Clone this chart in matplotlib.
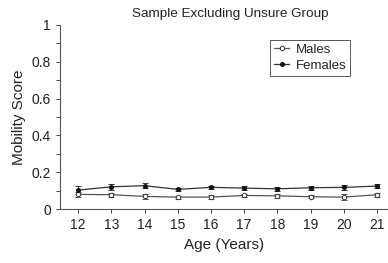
import numpy as np
import matplotlib.pyplot as plt

plt.rcParams['font.family'] = ['Liberation Sans', 'DejaVu Sans']
plt.rcParams['text.color'] = '#222222'
plt.rcParams['axes.labelcolor'] = '#222222'
plt.rcParams['xtick.labelcolor'] = '#222222'
plt.rcParams['ytick.labelcolor'] = '#222222'

# data
ages = [12, 13, 14, 15, 16, 17, 18, 19, 20, 21]
males = [0.080, 0.078, 0.069, 0.065, 0.065, 0.074, 0.072, 0.067, 0.065, 0.078]
males_err = [0.015, 0.010, 0.015, 0.008, 0.010, 0.008, 0.010, 0.008, 0.018, 0.010]
females = [0.103, 0.121, 0.127, 0.107, 0.118, 0.114, 0.110, 0.116, 0.118, 0.125]
females_err = [0.020, 0.015, 0.015, 0.010, 0.010, 0.010, 0.010, 0.010, 0.012, 0.010]

fig = plt.figure(figsize=(3.88, 2.63), dpi=100)
ax = fig.add_axes([0.155, 0.205, 0.845, 0.70])

m_line = ax.errorbar(ages, males, yerr=males_err, color='#555555', lw=0.9, marker='o',
                     ms=3.2, mfc='white', mec='#333333', mew=0.7, capsize=2,
                     elinewidth=0.7, capthick=0.7)
f_line = ax.errorbar(ages, females, yerr=females_err, color='#333333', lw=0.9, marker='o',
                     ms=2.6, mfc='#111111', mec='#111111', capsize=2,
                     elinewidth=0.7, capthick=0.7)

ax.set_xlim(11.46, 21.33)
ax.set_ylim(0, 1)
ax.set_xticks(ages)
ax.set_yticks([0, 0.2, 0.4, 0.6, 0.8, 1])
ax.set_yticklabels(['0', '0.2', '0.4', '0.6', '0.8', '1'])
ax.set_yticks(np.arange(0.1, 1.0, 0.2), minor=True)
ax.tick_params(labelsize=10, length=3, width=0.7, color='#444444')
ax.tick_params(which='minor', length=3, width=0.7, color='#444444')

for s in ['top', 'right']:
    ax.spines[s].set_visible(False)
for s in ['left', 'bottom']:
    ax.spines[s].set_color('#555555')
    ax.spines[s].set_linewidth(0.8)

ax.set_title('Sample Excluding Unsure Group', fontsize=9.7, pad=6, x=0.52)
ax.set_ylabel('Mobility Score', fontsize=11)
ax.set_xlabel('Age (Years)', fontsize=11)

# legend shows just line + marker, no error bars
leg = ax.legend([m_line.lines[0], f_line.lines[0]], ['Males', 'Females'],
                loc='upper right', bbox_to_anchor=(0.905, 0.955), fontsize=9.5,
                fancybox=False, edgecolor='#555555', framealpha=1,
                handlelength=1.1, handletextpad=0.5, borderpad=0.3,
                labelspacing=0.25)
leg.get_frame().set_linewidth(0.7)

fig.savefig('out.png', dpi=100)
